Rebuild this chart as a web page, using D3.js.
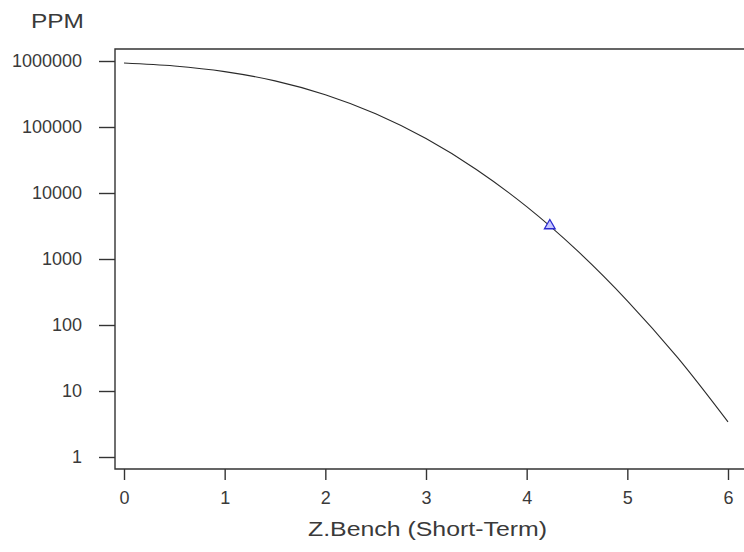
<!DOCTYPE html>
<html>
<head>
<meta charset="utf-8">
<script src="https://cdn.jsdelivr.net/npm/d3@7"></script>
<style>
  body { margin: 0; background: #fff; }
  text { font-family: "Liberation Sans", Arial, sans-serif; fill: #3a3a3a; }
</style>
</head>
<body>
<div id="chart"></div>
<script>
// Z.Bench (short-term) vs PPM
const zBench = [0, 0.5, 1, 1.5, 2, 2.5, 3, 3.5, 4, 4.5, 5, 5.5, 6];
const ppm = [933000, 841000, 691000, 500000, 308500, 158700, 66800, 22750, 6210, 1350, 233, 32, 3.4];

// marked point (triangle)
const markZ = [4.23];
const markPpm = [3200];

const xTicks = [0, 1, 2, 3, 4, 5, 6];
const yTicks = [1, 10, 100, 1000, 10000, 100000, 1000000];

const width = 744, height = 552;

// plot frame
const frame = { left: 115, top: 49, bottom: 469, right: 770 };

const svg = d3.select("#chart")
    .append("svg")
    .attr("width", width)
    .attr("height", height);

const x = d3.scaleLinear()
    .domain([0, 6])
    .range([frame.left + 9, 728]);

const y = d3.scaleLog()
    .domain([1, 1000000])
    .range([frame.bottom - 12, frame.top + 12]);

// frame lines (right side runs off the picture)
svg.append("path")
    .attr("d", `M${frame.right},${frame.top}H${frame.left}V${frame.bottom}H${frame.right}`)
    .attr("fill", "none")
    .attr("stroke", "#333")
    .attr("stroke-width", 1.4);

// y axis
const yAxis = d3.axisLeft(y)
    .tickValues(yTicks)
    .tickFormat(d3.format("d"))
    .tickSize(16)
    .tickPadding(17);

const gy = svg.append("g")
    .attr("transform", `translate(${frame.left},0)`)
    .call(yAxis);

// x axis
const xAxis = d3.axisBottom(x)
    .tickValues(xTicks)
    .tickFormat(d3.format("d"))
    .tickSize(11)
    .tickPadding(11);

const gx = svg.append("g")
    .attr("transform", `translate(0,${frame.bottom})`)
    .call(xAxis);

[gx, gy].forEach(g => {
    g.select(".domain").remove();
    g.selectAll(".tick line").attr("stroke", "#333").attr("stroke-width", 1.4);
    g.selectAll(".tick text")
        .attr("fill", "#3a3a3a")
        .style("font-size", "18px")
        .style("font-family", '"Liberation Sans", Arial, sans-serif');
});

// the curve
const line = d3.line()
    .x((d, i) => x(zBench[i]))
    .y((d, i) => y(ppm[i]))
    .curve(d3.curveCatmullRom);

svg.append("path")
    .datum(ppm)
    .attr("d", line)
    .attr("fill", "none")
    .attr("stroke", "#2a2a2a")
    .attr("stroke-width", 1.1);

// triangle marker
const tri = d3.symbol().type(d3.symbolTriangle).size(50);
svg.selectAll(".mark")
    .data(markZ)
    .enter()
    .append("path")
    .attr("class", "mark")
    .attr("d", tri)
    .attr("transform", (d, i) => `translate(${x(d)},${y(markPpm[i])})`)
    .attr("fill", "#c8c8ff")
    .attr("stroke", "#2a2ad0")
    .attr("stroke-width", 1.3);

// axis titles
svg.append("text")
    .attr("x", 31)
    .attr("y", 28)
    .attr("textLength", 53)
    .attr("lengthAdjust", "spacingAndGlyphs")
    .style("font-size", "21px")
    .text("PPM");

svg.append("text")
    .attr("x", 308)
    .attr("y", 536)
    .attr("textLength", 239)
    .attr("lengthAdjust", "spacingAndGlyphs")
    .style("font-size", "20px")
    .text("Z.Bench (Short-Term)");
</script>
</body>
</html>
